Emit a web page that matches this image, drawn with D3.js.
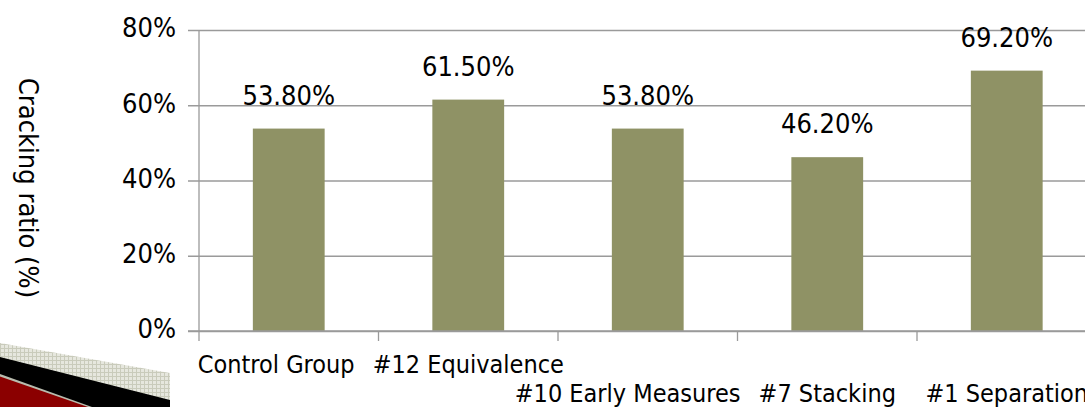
<!DOCTYPE html>
<html>
<head>
<meta charset="utf-8">
<script src="https://cdn.jsdelivr.net/npm/d3@7"></script>
<style>
  html, body { margin: 0; padding: 0; background: #fff; }
  svg { display: block; font-family: "DejaVu Sans Condensed", "DejaVu Sans", Verdana, sans-serif; }
</style>
</head>
<body>
<svg id="chart" width="1085" height="407"></svg>
<script>
// Cracking ratio by measure
const categories = ["Control Group", "#12 Equivalence", "#10 Early Measures", "#7 Stacking", "#1 Separation"];
const values = [53.8, 61.5, 53.8, 46.2, 69.2];
const valueLabels = ["53.80%", "61.50%", "53.80%", "46.20%", "69.20%"];
const labelRows = [0, 0, 1, 1, 1];
const yTicks = [0, 20, 40, 60, 80];
const yTickLabels = ["0%", "20%", "40%", "60%", "80%"];
const yTitle = "Cracking ratio (%)";

const svg = d3.select("#chart");
const W = 1085, H = 407;
const FONT = "DejaVu Sans Condensed, DejaVu Sans, Verdana, sans-serif";

// Corner decoration (slide ribbon), bottom-left
const defs = svg.append("defs");
const pat = defs.append("pattern")
  .attr("id", "grain").attr("width", 4).attr("height", 4)
  .attr("patternUnits", "userSpaceOnUse");
pat.append("rect").attr("width", 4).attr("height", 4).attr("fill", "#e6e7de");
pat.append("path").attr("d", "M0,0.5H4M0.5,0V4").attr("stroke", "#c9cbbb").attr("stroke-width", 1);

const deco = svg.append("g").attr("class", "ribbon");
deco.append("polygon").attr("points", "0,343 170,373 170,407 0,407").attr("fill", "url(#grain)");
deco.append("polygon").attr("points", "0,357 170,400 170,407 0,407").attr("fill", "#000");
deco.append("polygon").attr("points", "0,374 92,407 0,407").attr("fill", "#b9bcae");
deco.append("polygon").attr("points", "0,376.5 88,407 0,407").attr("fill", "#8b0000");

// Plot geometry
const left = 199, band = 179.5;
const x = d3.scaleBand()
  .domain(categories)
  .range([left, left + band * categories.length])
  .paddingInner(0.6).paddingOuter(0.3);
const y = d3.scaleLinear().domain([0, 80]).range([331, 30]);

const gridColor = "#9a9a9a";

// Horizontal gridlines with short outer ticks
const yAxis = d3.axisLeft(y)
  .tickValues(yTicks)
  .tickFormat((d, i) => yTickLabels[i])
  .tickSize(-(W - left + 20))
  .tickPadding(23);
const gy = svg.append("g").attr("transform", `translate(${left},0)`).call(yAxis);
gy.select(".domain").remove();
gy.selectAll(".tick line")
  .attr("x1", -11)
  .attr("stroke", gridColor).attr("stroke-width", 1.3);
gy.selectAll(".tick text")
  .attr("fill", "#000").attr("font-size", 27)
  .attr("dy", "0.25em")
  .attr("font-family", FONT);

// Vertical axis line
svg.append("line")
  .attr("x1", left).attr("x2", left)
  .attr("y1", y(80)).attr("y2", y(0))
  .attr("stroke", gridColor).attr("stroke-width", 1.3);

// Category boundary ticks on the baseline
const boundaries = d3.range(categories.length + 1).map(i => left + band * i);
svg.append("g").selectAll("line").data(boundaries).join("line")
  .attr("x1", d => d).attr("x2", d => d)
  .attr("y1", y(0)).attr("y2", y(0) + 10)
  .attr("stroke", gridColor).attr("stroke-width", 1.3);

// Bars
svg.append("g").selectAll("rect").data(values).join("rect")
  .attr("x", (d, i) => x(categories[i]))
  .attr("width", x.bandwidth())
  .attr("y", d => y(d))
  .attr("height", d => y(0) - y(d))
  .attr("fill", "#8f9265");

// Baseline over bars
svg.append("line")
  .attr("x1", left - 11).attr("x2", W)
  .attr("y1", y(0)).attr("y2", y(0))
  .attr("stroke", gridColor).attr("stroke-width", 1.3);

// Value labels
svg.append("g").selectAll("text").data(values).join("text")
  .attr("x", (d, i) => x(categories[i]) + x.bandwidth() / 2)
  .attr("y", d => y(d) - 24)
  .attr("text-anchor", "middle")
  .attr("font-size", 27)
  .attr("fill", "#000")
  .text((d, i) => valueLabels[i]);

// Category labels, staggered on two rows; a label that would crowd
// its right-hand neighbour on the same row is nudged left.
const rowBaseline = [373, 402];
const minGap = 18;
const catText = svg.append("g").selectAll("text").data(categories).join("text")
  .attr("y", (d, i) => rowBaseline[labelRows[i]])
  .attr("text-anchor", "start")
  .attr("font-size", 25)
  .attr("fill", "#000")
  .text(d => d);
const widths = catText.nodes().map(n => n.getComputedTextLength());
const starts = categories.map((c, i) => x(c) + x.bandwidth() / 2 - widths[i] / 2);
for (let i = categories.length - 2; i >= 0; i--) {
  let j = i + 1;
  while (j < categories.length && labelRows[j] !== labelRows[i]) j++;
  if (j < categories.length) {
    const limit = starts[j] - minGap - widths[i];
    if (starts[i] > limit) starts[i] = limit;
  }
}
catText.attr("x", (d, i) => starts[i]);

// Y-axis title
svg.append("text")
  .attr("transform", "translate(19,188) rotate(90)")
  .attr("text-anchor", "middle")
  .attr("font-size", 27)
  .attr("fill", "#000")
  .text(yTitle);
</script>
</body>
</html>
